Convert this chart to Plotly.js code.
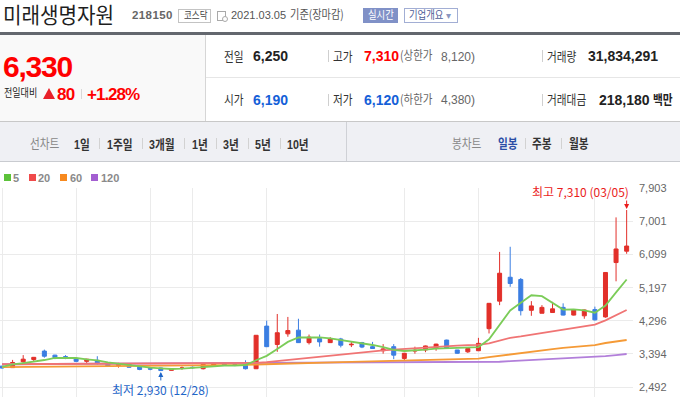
<!DOCTYPE html>
<html><head><meta charset="utf-8">
<script src="https://cdn.plot.ly/plotly-3.0.1.min.js"></script>
<style>
html,body{margin:0;padding:0;width:680px;height:397px;overflow:hidden;background:#fff;}
#chart{position:absolute;left:0;top:0;width:680px;height:397px;}
#hdr{position:absolute;left:0;top:0;width:680px;height:397px;pointer-events:none;}
.bx{position:absolute;box-sizing:border-box;}
</style></head>
<body>
<div id="chart"></div>
<div id="hdr">
  <div class="bx" style="left:0;top:32px;width:680px;height:3px;background:#63676e"></div>
  <div class="bx" style="left:0;top:35px;width:206px;height:86px;background:#f9f9f9;border-right:1px solid #d6d6d6"></div>
  <div class="bx" style="left:206px;top:77px;width:474px;height:1px;background:#e6e6e6"></div>
  <div class="bx" style="left:0;top:121px;width:680px;height:41px;background:#eff0f4;border-top:1px solid #c8c8c8;border-bottom:1px solid #c9cbd0"></div>
  <div class="bx" style="left:346px;top:122px;width:1px;height:39px;background:#cfd1d6"></div>
  <div class="bx" style="left:178px;top:9px;width:33px;height:14px;border:1px solid #c3c3c3;background:#fff"></div>
  <div class="bx" style="left:217px;top:11px;width:9px;height:10px;border:1px solid #a9a9a9;background:#fff"></div>
  <div class="bx" style="left:222px;top:16px;width:6px;height:6px;border:1px solid #a9a9a9;border-radius:50%;background:#fff"></div>
  <div class="bx" style="left:363px;top:8px;width:35px;height:15px;background:#8091c7"></div>
  <div class="bx" style="left:404px;top:8px;width:54px;height:15px;border:1px solid #a2aed4;background:#fff"></div>
  <div class="bx" style="left:43px;top:88px;width:0;height:0;border-left:6.5px solid transparent;border-right:6.5px solid transparent;border-bottom:11px solid #e8212a"></div>
  <div class="bx" style="left:81px;top:89px;width:1px;height:10px;background:#d8d8d8"></div>
  <div class="bx" style="left:328px;top:50px;width:1px;height:12px;background:#cfcfcf"></div>
  <div class="bx" style="left:542px;top:50px;width:1px;height:12px;background:#cfcfcf"></div>
  <div class="bx" style="left:328px;top:94px;width:1px;height:12px;background:#cfcfcf"></div>
  <div class="bx" style="left:542px;top:94px;width:1px;height:12px;background:#cfcfcf"></div>
  <div class="bx" style="left:4px;top:174px;width:7px;height:7px;background:#5cc23a"></div>
  <div class="bx" style="left:29px;top:174px;width:7px;height:7px;background:#f04a4a"></div>
  <div class="bx" style="left:60px;top:174px;width:7px;height:7px;background:#f7891e"></div>
  <div class="bx" style="left:91px;top:174px;width:7px;height:7px;background:#a35fd1"></div>
</div>
<script>
// ---- chart data ----
const dates = ['12/04','12/07','12/08','12/09','12/10','12/11','12/14','12/15','12/16','12/17','12/18','12/21','12/22','12/23','12/24','12/28','12/29','12/30',
 '01/04','01/05','01/06','01/07','01/08','01/11','01/12','01/13','01/14','01/15','01/18','01/19','01/20','01/21','01/22','01/25','01/26','01/27','01/28','01/29',
 '02/01','02/02','02/03','02/04','02/05','02/08','02/09','02/10','02/15','02/16','02/17','02/18','02/19','02/22','02/23','02/24','02/25','02/26',
 '03/02','03/03','03/04','03/05'];
const opens  = [3060,3020,3180,3240,3470,3360,3320,3270,3190,3220,3140,3080,3130,3070,2990,3010,2945,3000,3030,2990,3070,3140,3110,3110,2990,4150,3650,3940,4040,3700,3810,3700,3800,3640,3700,3590,3480,3590,3270,3470,3500,3560,3770,3500,3450,3480,4080,4830,5480,5420,4580,4500,4520,4660,4450,4430,4600,4400,5880,6190];
const highs  = [3070,3230,3360,3310,3510,3370,3360,3280,3260,3330,3170,3150,3140,3080,3030,3020,2995,3050,3050,3150,3140,3150,3140,3220,3900,4300,4480,4400,4350,3920,3920,3850,3830,3740,3720,3720,3660,3660,3420,3590,3620,3670,3780,3500,3540,3830,4780,6170,6310,5460,4830,4720,4810,4770,4610,4600,4680,5610,7110,7310];
const lows   = [2990,3010,3120,3200,3290,3250,3250,3170,3140,3100,3050,3020,3020,2950,2950,2930,2940,2960,2990,2970,3060,3090,3060,2970,2980,3580,3450,3860,3690,3650,3590,3690,3570,3580,3550,3530,3400,3250,3200,3400,3440,3480,3530,3400,3420,3470,3950,4720,5220,4440,4430,4500,4510,4440,4440,4350,4300,4380,5370,6120];
const closes = [3010,3160,3250,3300,3330,3290,3280,3190,3250,3150,3060,3110,3030,2970,2980,2940,2995,3010,3020,3110,3120,3100,3100,2990,3900,3590,3970,4030,3700,3850,3720,3810,3630,3655,3580,3540,3530,3360,3410,3490,3610,3660,3540,3410,3540,3680,4770,5590,5310,4570,4700,4660,4620,4450,4590,4590,4320,5610,6250,6330];
const ma5   = [3037,3110,3145,3181,3227,3282,3290,3282,3246,3219,3165,3127,3091,3045,3018,3001,2982,2990,3009,3028,3056,3072,3072,3091,3220,3340,3530,3720,3840,3845,3845,3818,3772,3745,3699,3636,3581,3500,3473,3481,3508,3535,3546,3546,3554,3575,3790,4200,4575,4785,4990,4965,4775,4600,4605,4580,4515,4710,5070,5420];
const ma20  = [3112,3113,3115,3116,3118,3119,3120,3121,3122,3123,3124,3125,3126,3127,3128,3128,3129,3130,3131,3132,3133,3134,3135,3137,3150,3170,3200,3227,3254,3290,3325,3355,3382,3410,3440,3468,3490,3512,3532,3552,3572,3590,3606,3620,3630,3638,3678,3752,3832,3870,3918,3960,4010,4050,4100,4152,4192,4305,4448,4590];
const ma60  = [3035,3037,3040,3042,3045,3047,3050,3052,3055,3057,3060,3062,3065,3067,3069,3071,3073,3075,3078,3080,3083,3085,3088,3092,3105,3115,3125,3135,3143,3150,3157,3164,3171,3177,3183,3189,3195,3201,3207,3213,3220,3227,3235,3243,3252,3265,3305,3345,3385,3420,3455,3490,3525,3560,3590,3615,3635,3690,3730,3772];
const ma120 = [3112,3113,3114,3115,3116,3117,3118,3119,3120,3121,3122,3123,3124,3125,3126,3127,3128,3129,3130,3131,3132,3133,3134,3135,3137,3138,3139,3140,3141,3142,3143,3144,3145,3146,3147,3148,3149,3150,3151,3152,3153,3154,3155,3157,3159,3161,3170,3180,3195,3210,3222,3235,3248,3262,3276,3290,3310,3335,3362,3391];
const maNames = ['5','20','60','120'];
const yTicks = [2492,3394,4296,5197,6099,7001,7903];
const gridDates = ['12/04','12/15','12/24','01/04','01/13','02/01','02/10','03/02'];

// ---- header text ----
const hdr = document.getElementById('hdr');
const KOR = '"Noto Sans CJK KR","Liberation Sans",sans-serif';
const LAT = '"Liberation Sans","Noto Sans CJK KR",sans-serif';
function put(txt, x, base, size, o) {
  o = o || {};
  const d = document.createElement('div');
  d.textContent = txt;
  const k = o.kor ? 0.936 : 0.8465;
  d.style.cssText = 'position:absolute;white-space:nowrap;left:' + x + 'px;top:' + (base - k * size) + 'px;font-size:' + size +
    'px;line-height:' + size + 'px;font-family:' + (o.kor ? KOR : LAT) + ';color:' + (o.c || '#222') + ';font-weight:' + (o.b ? 'bold' : 'normal') +
    ';letter-spacing:' + (o.ls || 0) + 'px;transform:scaleX(' + (o.sx || 1) + ');transform-origin:0 0;';
  hdr.appendChild(d);
}
put('미래생명자원', 3, 22.8, 21.2, {sx:0.95, c:'#1e1e1e'});
put('218150', 132, 19.5, 11.5, {b:1, c:'#666', ls:0.4});
put('코스닥', 184, 19.6, 10, {kor:1, sx:0.85, c:'#444'});
put('2021.03.05', 231, 19.5, 11, {c:'#555'});
put('기준(장마감)', 290, 19.2, 12, {kor:1, sx:0.85, c:'#555'});
put('실시간', 368, 19.4, 11, {kor:1, sx:0.85, c:'#fff'});
put('기업개요', 409, 19.4, 11, {kor:1, sx:0.85, c:'#4c5c96'});
put('▾', 446, 19.4, 10, {c:'#8b97c0'});
put('6,330', 3, 77, 30, {b:1, c:'#f00', ls:-1.2});
put('전일대비', 4, 97.2, 11, {kor:1, sx:0.82, c:'#222'});
put('80', 57, 100, 17, {b:1, c:'#f00', ls:-0.8});
put('+1.28%', 87, 100, 17, {b:1, c:'#f00', ls:-1});
// row 1
put('전일', 224, 61.1, 13, {kor:1, sx:0.82, c:'#333'});
put('6,250', 253, 61.3, 14, {b:1});
put('고가', 333, 61.1, 13, {kor:1, sx:0.82, c:'#333'});
put('7,310', 364, 61.3, 14, {b:1, c:'#f00'});
put('(상한가', 400, 61.1, 12.5, {kor:1, sx:0.84, c:'#666'});
put('8,120)', 441, 61.3, 12, {c:'#666'});
put('거래량', 547, 61.1, 13, {kor:1, sx:0.82, c:'#333'});
put('31,834,291', 588, 61.3, 14, {b:1});
// row 2
put('시가', 224, 104.3, 13, {kor:1, sx:0.82, c:'#333'});
put('6,190', 253, 104.4, 14, {b:1, c:'#1560d8'});
put('저가', 333, 104.3, 13, {kor:1, sx:0.82, c:'#333'});
put('6,120', 364, 104.4, 14, {b:1, c:'#1560d8'});
put('(하한가', 400, 104.3, 12.5, {kor:1, sx:0.84, c:'#666'});
put('4,380)', 441, 104.4, 12, {c:'#666'});
put('거래대금', 547, 104.3, 13, {kor:1, sx:0.82, c:'#333'});
put('218,180', 599, 104.4, 14, {b:1});
put('백만', 653, 104.3, 13, {kor:1, b:1, sx:0.82});
// toolbar
put('선차트', 30, 148.1, 13, {kor:1, sx:0.82, c:'#888'});
const tb = [['1일',74],['1주일',107],['3개월',149],['1년',192],['3년',223],['5년',255],['10년',287]];
tb.forEach(t => put(t[0], t[1], 149, 13, {b:1, sx:0.82, c:'#333'}));
put('봉차트', 452, 148.1, 13, {kor:1, sx:0.82, c:'#888'});
put('일봉', 498, 148.1, 13, {kor:1, b:1, sx:0.82, c:'#2a4ea6'});
put('주봉', 532, 148.1, 13, {kor:1, b:1, sx:0.82, c:'#333'});
put('월봉', 569, 148.1, 13, {kor:1, b:1, sx:0.82, c:'#333'});
[99,142,184,216,248,280,525,561].forEach(x => {
  const d = document.createElement('div'); d.className = 'bx';
  d.style.cssText += 'left:' + x + 'px;top:138px;width:1px;height:11px;background:#d2d2d2;';
  hdr.appendChild(d);
});
// legend labels
[[13,'5'],[38,'20'],[70,'60'],[101,'120']].forEach((l, i) => put(maNames[i], l[0], 182, 11, {b:1, c:'#8a8a8a'}));

// ---- plot ----
const fmt = v => v.toLocaleString('en-US');
const hiIdx = highs.indexOf(Math.max(...highs));
const loIdx = lows.indexOf(Math.min(...lows));
const maSeries = [ma120, ma60, ma20, ma5];
const maColors = ['#b27fda', '#f59a36', '#f07474', '#7bcc58'];
const traces = maSeries.map((m, i) => ({
  type: 'scatter', mode: 'lines', x: dates, y: m, hoverinfo: 'skip',
  line: {color: maColors[i], width: 1.8}
}));
traces.push({
  type: 'candlestick', x: dates, open: opens, high: highs, low: lows, close: closes,
  increasing: {line: {color: '#e2302a', width: 1}, fillcolor: '#e2302a'},
  decreasing: {line: {color: '#3b7ee2', width: 1}, fillcolor: '#3b7ee2'},
  whiskerwidth: 0, hoverinfo: 'skip'
});
const annFont = (c) => ({family: 'Noto Sans CJK KR, Liberation Sans', size: 12, color: c});
const layout = {
  width: 680, height: 397,
  margin: {l: 0, r: 47, t: 188, b: 0, pad: 0},
  paper_bgcolor: 'rgba(0,0,0,0)', plot_bgcolor: 'rgba(0,0,0,0)',
  showlegend: false, boxgap: 0.46,
  xaxis: {type: 'category', range: [-0.19, 59.6], tickvals: gridDates, showticklabels: false, ticks: '',
          showgrid: true, gridcolor: '#ebebeb', gridwidth: 1, zeroline: false, showline: false,
          rangeslider: {visible: false}, fixedrange: true, automargin: false},
  yaxis: {side: 'right', range: [2220, 7910], tickvals: yTicks, tickformat: ',d', showgrid: true, gridcolor: '#ebebeb',
          zeroline: false, showline: false, ticks: '', ticklabelstandoff: 5, automargin: false, fixedrange: true,
          tickfont: {family: 'Liberation Sans', size: 11, color: '#666'}},
  annotations: [
    {x: dates[hiIdx], y: highs[hiIdx], xref: 'x', yref: 'y', text: '최고 ' + fmt(highs[hiIdx]) + ' (' + dates[hiIdx] + ')',
     showarrow: false, xanchor: 'right', yanchor: 'middle', xshift: 4, yshift: 19, font: annFont('#ea1c1c')},
    {x: dates[hiIdx], y: highs[hiIdx], xref: 'x', yref: 'y', text: '', showarrow: true, ax: 0, ay: -11,
     arrowhead: 2, arrowsize: 1, arrowwidth: 1, arrowcolor: '#ea1c1c', standoff: 1},
    {x: dates[loIdx], y: lows[loIdx], xref: 'x', yref: 'y', text: '최저 ' + fmt(lows[loIdx]) + ' (' + dates[loIdx] + ')',
     showarrow: false, xanchor: 'center', yanchor: 'middle', yshift: -18.5, font: annFont('#1f66c8')},
    {x: dates[loIdx], y: lows[loIdx], xref: 'x', yref: 'y', text: '', showarrow: true, ax: 0, ay: 11,
     arrowhead: 2, arrowsize: 1, arrowwidth: 1, arrowcolor: '#1f66c8', standoff: 1}
  ]
};
Plotly.newPlot('chart', traces, layout, {staticPlot: true, displayModeBar: false});
</script>
</body></html>
